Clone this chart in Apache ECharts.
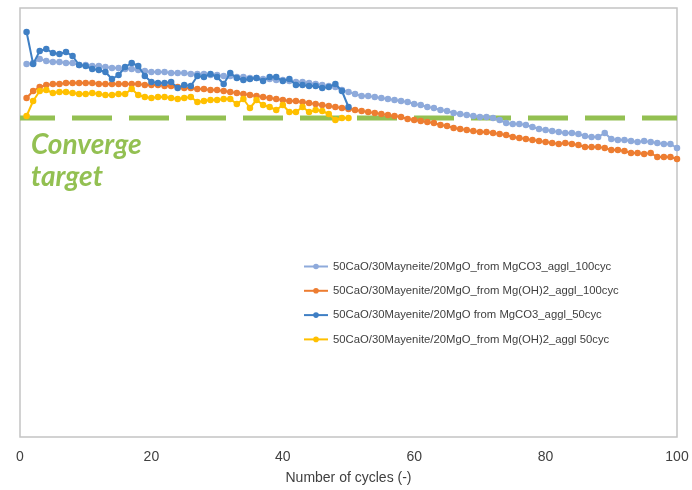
<!DOCTYPE html>
<html>
<head>
<meta charset="utf-8">
<script src="https://cdn.jsdelivr.net/npm/echarts@6/dist/echarts.min.js"></script>
<style>html,body{margin:0;padding:0;background:#fff}#c{width:692px;height:490px}</style>
</head>
<body>
<div id="c"></div>
<script>
// Values in arbitrary units (y axis unlabeled in source), x = cycle number
const seriesNames = [
  '50CaO/30Mayneite/20MgO_from MgCO3_aggl_100cyc',
  '50CaO/30Mayenite/20MgO_from Mg(OH)2_aggl_100cyc',
  '50CaO/30Mayenite/20MgO from MgCO3_aggl_50cyc',
  '50CaO/30Mayenite/20MgO_from Mg(OH)2_aggl 50cyc'
];
const mgco3_100 = [373,374,378,376,375,375,374,374,372,372,371,371,370,369,369,368,368,367,366,365,
  365,365,364,364,364,363,363,363,362,362,361,361,360,360,359,359,358,358,357,357,
  356,355,355,354,353,352,351,350,347,345,343,341,341,340,339,338,337,336,335,333,
  332,330,329,327,326,324,323,322,321,320,320,319,317,314,313,313,312,310,308,307,
  306,305,304,304,303,301,300,300,304,298,297,297,296,295,296,295,294,293,293,289];
const mgoh2_100 = [339,346,350,352,353,353,354,354,354,354,354,353,353,353,353,353,353,353,352,352,
  352,351,351,350,349,349,348,348,347,347,346,345,344,343,342,341,340,339,338,337,
  336,336,335,334,333,332,331,330,329,328,327,326,325,324,323,322,321,320,318,317,
  316,315,314,312,311,309,308,307,306,305,305,304,303,302,300,299,298,297,296,295,
  294,293,294,293,292,290,290,290,289,287,287,286,284,284,283,284,280,280,280,278];
const mgco3_50 = [405,373,386,388,384,383,385,381,372,371,368,367,365,358,362,370,374,371,361,355,
  354,354,355,349,352,351,361,360,363,360,353,364,359,357,358,359,356,360,360,356,
  358,352,352,351,351,349,350,353,346,330];
const mgoh2_50 = [321,336,346,347,344,345,345,344,343,343,344,343,342,342,343,343,348,342,340,339,
  340,340,339,338,339,340,335,336,337,337,338,338,333,338,329,337,332,330,327,332,
  325,325,330,325,327,326,323,317,319,319];
const convergeTarget = 319;
const xTicks = [0, 20, 40, 60, 80, 100];
const colors = ['#8eaadb', '#ed7d31', '#3f7fc4', '#ffc000'];

const toPairs = arr => arr.map((v, i) => [i + 1, v]);
const chart = echarts.init(document.getElementById('c'), null, {renderer: 'canvas'});
const valueSets = [mgco3_100, mgoh2_100, mgco3_50, mgoh2_50];
const lineSeries = valueSets.map((vals, k) => ({
  name: seriesNames[k],
  type: 'line',
  data: toPairs(vals),
  symbol: 'circle',
  symbolSize: 6.5,
  showSymbol: true,
  lineStyle: {width: 2, color: colors[k]},
  itemStyle: {color: colors[k]},
  z: 3 + k,
  animation: false
}));
lineSeries.splice(0, 0, {
  name: 'Converge target',
  type: 'line',
  data: [[xTicks[0], convergeTarget], [xTicks[xTicks.length - 1], convergeTarget]],
  symbol: 'none',
  lineStyle: {width: 5, color: '#93c052', type: [40, 17], dashOffset: 5, cap: 'butt'},
  z: 2,
  animation: false
});

chart.setOption({
  animation: false,
  grid: {left: 20, right: 15, top: 8, bottom: 53, show: true, borderColor: '#c4c4c4', borderWidth: 1.5, backgroundColor: 'transparent'},
  xAxis: {
    type: 'value', min: 0, max: 100, interval: 20,
    axisLine: {show: false}, axisTick: {show: false}, splitLine: {show: false},
    axisLabel: {fontFamily: 'Liberation Sans', fontSize: 14, color: '#404040', margin: 13},
    name: 'Number of cycles (-)', nameLocation: 'middle', nameGap: 34,
    nameTextStyle: {fontFamily: 'Liberation Sans', fontSize: 14, color: '#404040'}
  },
  yAxis: {
    type: 'value', min: 0, max: 429,
    axisLine: {show: false}, axisTick: {show: false}, splitLine: {show: false}, axisLabel: {show: false}
  },
  legend: {
    data: seriesNames,
    orient: 'vertical', left: 298, top: 256,
    itemWidth: 24, itemHeight: 7, itemGap: 13.3,
    textStyle: {fontFamily: 'Liberation Sans', fontSize: 11.3, color: '#404040'}
  },
  graphic: [
    {type: 'text', left: 31, top: 131, style: {text: 'Converge', font: 'italic bold 28px Lato', fill: '#93c052'}},
    {type: 'text', left: 31, top: 163, style: {text: 'target', font: 'italic bold 28px Lato', fill: '#93c052'}}
  ],
  series: lineSeries
});
</script>
</body>
</html>
